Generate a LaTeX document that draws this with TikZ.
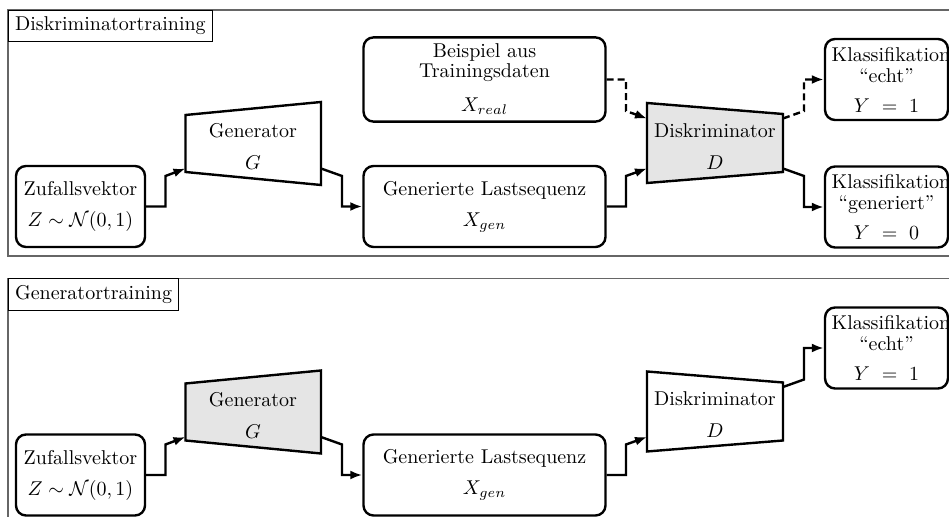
\documentclass[tikz,border=0pt]{standalone}
\usepackage{amsmath}
\usepackage{tikz}
\usetikzlibrary{calc,arrows.meta}

\begin{document}
\begin{tikzpicture}[x=0.5pt, y=-0.5pt,
	panel/.style={draw=black!60, line width=0.6pt},
	paneltitle/.style={draw, fill=white, anchor=north west, line width=0.4pt},
	block/.style={draw, rounded corners=5pt, line width=1.2pt, align=center, minimum height=40.5pt},
	classblock/.style={block, text width=54.8pt},
	trapez/.style={draw, line width=1.2pt},
	link/.style={line width=1.2pt, -{Latex[length=6pt,width=4.5pt]}},
	dlink/.style={link, dash pattern=on 3.5pt off 2pt}]
	% \draw[gray, very thin, step=50] (0,0) grid (949,517);
	\path[use as bounding box] (0,0) rectangle (949,517);
	\clip (0,0) rectangle (949,517);

	\begin{scope}
	\draw[panel] (8,10) rectangle (975,256);
	\node[paneltitle] (dTitle) at (8,10) {Diskriminatortraining};

	\node[block, minimum width=64.5pt] (dZ) at (80.5,206.5) {Zufallsvektor\\[3.5pt]$Z\sim\mathcal{N}(0,1)$};

	\draw[trapez] (185.5,115) -- (321,102) -- (321,185) -- (185.5,172) -- cycle;
	\node[align=center] (dG) at (253,146.5) {Generator\\[4pt]$G$};
	\coordinate (dGin) at (185.5,168.5);
	\coordinate (dGout) at (321,168.5);

	\node[block, minimum width=121pt] (dXreal) at (484.5,79.5) {Beispiel aus\\[-2pt]Trainingsdaten\\[5pt]$X_{real}$};
	\node[block, minimum width=121pt] (dXgen) at (484.5,206.5) {Generierte Lastsequenz\\[3.5pt]$X_{gen}$};

	\draw[trapez, fill=black!10] (647,103) -- (783,114) -- (783,172) -- (647,183) -- cycle;
	\node[align=center] (dD) at (715,146.5) {Diskriminator\\[4pt]$D$};
	\coordinate (dDinA) at (647,118.5);
	\coordinate (dDinB) at (647,168.5);
	\coordinate (dDoutA) at (783,118.5);
	\coordinate (dDoutB) at (783,168.5);

	\node[classblock] (dKe) at (886.5,79.5) {Klassifikation\\[-1.5pt]“echt”\\[3pt]$Y\,=\,1$};
	\node[classblock] (dKg) at (886.5,207) {Klassifikation\\[-1.5pt]“generiert”\\[3pt]$Y\,=\,0$};

	\draw[link] (dZ.east) -| ($(dGin)+(-20,7.5)$) -- (dGin);
	\draw[link] (dGout) -- ($(dGout)+(21,7.5)$) |- (dXgen.west);
	\draw[dlink] (dXreal.east) -| ($(dDinA)+(-21,-7.5)$) -- (dDinA);
	\draw[link] (dXgen.east) -| ($(dDinB)+(-21,7.5)$) -- (dDinB);
	\draw[dlink] (dDoutA) -- ($(dDoutA)+(21,-7.5)$) |- (dKe.west);
	\draw[link] (dDoutB) -- ($(dDoutB)+(21,7.5)$) |- (dKg.west);
	\end{scope}

	\begin{scope}[shift={(0,268.5)}]
	\draw[panel] (8,10) rectangle (975,256);
	\node[paneltitle] (gTitle) at (8,10) {Generatortraining};

	\node[block, minimum width=64.5pt] (gZ) at (80.5,206.5) {Zufallsvektor\\[3.5pt]$Z\sim\mathcal{N}(0,1)$};

	\draw[trapez, fill=black!10] (185.5,115) -- (321,102) -- (321,185) -- (185.5,172) -- cycle;
	\node[align=center] (gG) at (253,146.5) {Generator\\[4pt]$G$};
	\coordinate (gGin) at (185.5,168.5);
	\coordinate (gGout) at (321,168.5);

	\node[block, minimum width=121pt] (gXgen) at (484.5,206.5) {Generierte Lastsequenz\\[3.5pt]$X_{gen}$};

	\draw[trapez] (647,103) -- (783,114) -- (783,172) -- (647,183) -- cycle;
	\node[align=center] (gD) at (715,146.5) {Diskriminator\\[4pt]$D$};
	\coordinate (gDin) at (647,168.5);
	\coordinate (gDout) at (783,118.5);

	\node[classblock] (gKe) at (886.5,79.5) {Klassifikation\\[-1.5pt]“echt”\\[3pt]$Y\,=\,1$};

	\draw[link] (gZ.east) -| ($(gGin)+(-20,7.5)$) -- (gGin);
	\draw[link] (gGout) -- ($(gGout)+(21,7.5)$) |- (gXgen.west);
	\draw[link] (gXgen.east) -| ($(gDin)+(-21,7.5)$) -- (gDin);
	\draw[link] (gDout) -- ($(gDout)+(21,-7.5)$) |- (gKe.west);
	\end{scope}
\end{tikzpicture}
\end{document}
